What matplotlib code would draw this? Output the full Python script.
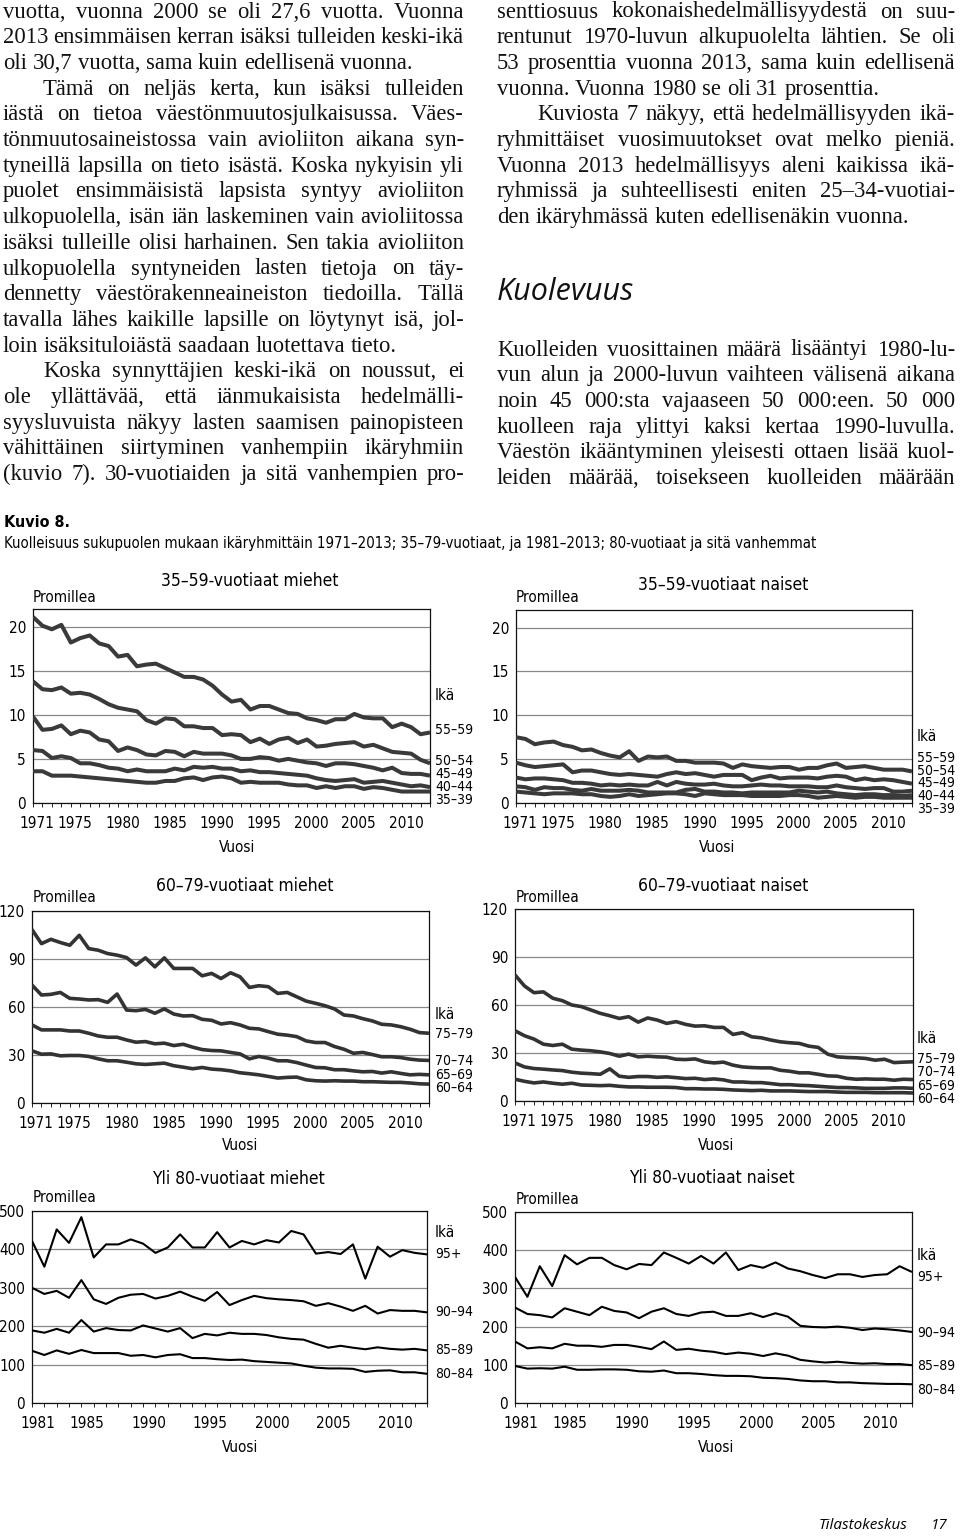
import matplotlib
matplotlib.use('Agg')
import matplotlib.pyplot as plt
from matplotlib import font_manager as fm
from matplotlib.font_manager import FontProperties
from matplotlib.transforms import blended_transform_factory

# ---------------- data ----------------
years71 = list(range(1971, 2014))
years81 = list(range(1981, 2014))
xt71 = [1971, 1975, 1980, 1985, 1990, 1995, 2000, 2005, 2010]
xt81 = [1981, 1985, 1990, 1995, 2000, 2005, 2010]

# 35-59 men
m35_55_59 = [21.1, 20.1, 19.7, 20.2, 18.2, 18.7, 19.0, 18.1, 17.8, 16.6,
             16.8, 15.5, 15.7, 15.8, 15.3, 14.8, 14.3, 14.3, 14.0, 13.3,
             12.3, 11.5, 11.7, 10.6, 11.0, 11.0, 10.6, 10.2, 10.1, 9.6,
             9.4, 9.1, 9.5, 9.5, 10.1, 9.7, 9.6, 9.6, 8.6, 9.0,
             8.6, 7.8, 8.0]
m35_50_54 = [13.8, 12.9, 12.8, 13.1, 12.4, 12.5, 12.3, 11.8, 11.2, 10.8,
             10.6, 10.4, 9.4, 9.0, 9.6, 9.5, 8.7, 8.7, 8.5, 8.5,
             7.7, 7.8, 7.7, 6.9, 7.3, 6.7, 7.2, 7.4, 6.8, 7.2,
             6.4, 6.5, 6.7, 6.8, 6.9, 6.4, 6.6, 6.2, 5.8, 5.7,
             5.6, 4.9, 4.5]
m35_45_49 = [9.8, 8.3, 8.4, 8.8, 7.8, 8.2, 8.0, 7.2, 7.0, 5.9,
             6.3, 6.0, 5.5, 5.4, 5.9, 5.8, 5.3, 5.8, 5.6, 5.6,
             5.6, 5.4, 5.0, 5.0, 5.2, 5.1, 4.8, 5.0, 4.8, 4.6,
             4.5, 4.2, 4.5, 4.5, 4.4, 4.2, 4.0, 3.7, 4.0, 3.4,
             3.3, 3.3, 3.1]
m35_40_44 = [6.0, 5.9, 5.1, 5.3, 5.1, 4.5, 4.5, 4.3, 4.0, 3.9,
             3.6, 3.8, 3.6, 3.6, 3.6, 3.9, 3.7, 4.1, 4.0, 4.1,
             3.9, 3.9, 3.6, 3.7, 3.5, 3.5, 3.4, 3.3, 3.2, 3.1,
             2.8, 2.6, 2.5, 2.6, 2.7, 2.3, 2.4, 2.5, 2.3, 2.1,
             1.9, 2.0, 1.8]
m35_35_39 = [3.6, 3.6, 3.1, 3.1, 3.1, 3.0, 2.9, 2.8, 2.7, 2.6,
             2.5, 2.4, 2.3, 2.3, 2.5, 2.5, 2.8, 2.9, 2.6, 2.9,
             3.0, 2.8, 2.3, 2.4, 2.3, 2.3, 2.3, 2.1, 2.0, 2.0,
             1.7, 1.9, 1.7, 1.9, 1.9, 1.6, 1.8, 1.7, 1.5, 1.3,
             1.3, 1.3, 1.3]

# 35-59 women
w35_55_59 = [7.5, 7.3, 6.7, 6.9, 7.0, 6.6, 6.4, 6.0, 6.1, 5.7,
             5.4, 5.2, 5.9, 4.8, 5.3, 5.2, 5.3, 4.8, 4.8, 4.6,
             4.6, 4.6, 4.5, 4.0, 4.4, 4.2, 4.1, 4.0, 4.1, 4.1,
             3.8, 4.0, 4.0, 4.3, 4.5, 4.0, 4.1, 4.2, 4.0, 3.8,
             3.8, 3.8, 3.6]
w35_50_54 = [4.6, 4.3, 4.1, 4.2, 4.3, 4.4, 3.5, 3.7, 3.7, 3.5,
             3.3, 3.2, 3.3, 3.2, 3.1, 3.0, 3.3, 3.5, 3.3, 3.4,
             3.2, 3.0, 3.2, 3.2, 3.2, 2.6, 2.9, 3.1, 2.8, 2.9,
             2.9, 2.9, 2.8, 3.0, 3.1, 3.0, 2.6, 2.8, 2.6, 2.7,
             2.6, 2.4, 2.2]
w35_45_49 = [2.9, 2.7, 2.8, 2.8, 2.7, 2.6, 2.3, 2.3, 2.2, 2.0,
             2.1, 2.0, 2.1, 2.0, 2.0, 2.4, 2.0, 2.4, 2.2, 2.1,
             2.1, 2.2, 2.0, 1.9, 1.9, 2.0, 2.1, 2.0, 2.0, 1.9,
             1.9, 1.9, 1.8, 1.8, 2.0, 1.8, 1.7, 1.6, 1.7, 1.7,
             1.3, 1.3, 1.4]
w35_40_44 = [1.9, 1.8, 1.5, 1.8, 1.7, 1.7, 1.5, 1.4, 1.6, 1.4,
             1.4, 1.4, 1.5, 1.4, 1.2, 1.2, 1.2, 1.2, 1.5, 1.6,
             1.3, 1.3, 1.2, 1.2, 1.1, 1.2, 1.2, 1.2, 1.2, 1.2,
             1.4, 1.3, 1.2, 1.3, 1.1, 1.0, 0.9, 1.0, 1.0, 0.9,
             0.9, 0.8, 0.9]
w35_35_39 = [1.3, 1.2, 1.1, 1.0, 1.1, 1.1, 1.1, 1.0, 1.0, 0.8,
             0.7, 0.8, 1.0, 0.8, 0.9, 1.0, 1.1, 1.1, 1.0, 0.8,
             1.1, 1.0, 0.9, 0.9, 0.9, 0.8, 0.8, 0.8, 0.8, 0.9,
             0.9, 0.8, 0.6, 0.7, 0.8, 0.7, 0.6, 0.7, 0.7, 0.6,
             0.6, 0.6, 0.6]

# 60-79 men
m60_75_79 = [108.4, 99.6, 102.3, 100.3, 98.6, 104.8, 96.5, 95.5, 93.4, 92.4,
             90.9, 86.2, 90.7, 85.1, 90.7, 84.1, 84.1, 84.1, 79.5, 81.0,
             77.8, 81.4, 78.9, 72.2, 73.3, 72.7, 68.5, 69.1, 66.4, 63.7,
             62.3, 60.8, 58.8, 55.0, 54.4, 52.7, 51.3, 49.2, 48.8, 47.7,
             46.1, 44.0, 43.6]
m60_70_74 = [73.7, 67.5, 67.9, 69.1, 65.4, 65.0, 64.4, 64.6, 62.9, 68.1,
             58.1, 57.7, 58.5, 56.1, 58.8, 55.6, 54.4, 54.6, 52.3, 51.7,
             49.4, 50.2, 48.8, 46.7, 46.3, 44.6, 43.0, 42.4, 41.5, 38.8,
             37.8, 37.8, 35.3, 33.6, 31.1, 31.6, 30.3, 28.9, 28.9, 28.4,
             27.4, 26.8, 26.6]
m60_65_69 = [48.8, 45.7, 45.7, 45.7, 45.0, 45.0, 43.6, 41.9, 41.1, 41.1,
             39.4, 38.0, 38.4, 37.0, 37.4, 35.9, 36.7, 34.9, 33.4, 32.8,
             32.6, 31.6, 30.7, 27.6, 29.1, 28.0, 26.4, 26.4, 25.3, 23.7,
             22.2, 22.0, 20.8, 20.8, 20.1, 19.5, 19.7, 18.7, 19.5, 18.5,
             17.6, 17.9, 17.6]
m60_60_64 = [32.6, 30.5, 30.7, 29.5, 29.7, 29.7, 29.1, 27.6, 26.4, 26.4,
             25.5, 24.5, 24.1, 24.5, 24.9, 23.3, 22.4, 21.4, 22.2, 21.2,
             20.8, 20.1, 18.9, 18.3, 17.6, 16.6, 15.6, 16.0, 16.2, 14.5,
             13.9, 13.7, 13.9, 13.7, 13.7, 13.3, 13.3, 13.1, 12.9, 12.9,
             12.5, 12.0, 11.8]

# 60-79 women
w60_75_79 = [78.8, 71.9, 67.7, 68.2, 64.2, 62.7, 60.0, 59.0, 56.9, 54.8,
             53.3, 51.6, 52.7, 49.3, 51.9, 50.6, 48.5, 49.6, 47.9, 46.8,
             47.0, 46.0, 46.0, 41.6, 42.7, 40.1, 39.5, 38.1, 37.0, 36.4,
             36.0, 34.3, 33.5, 29.3, 27.6, 27.2, 27.0, 26.6, 25.5, 26.1,
             24.0, 24.3, 24.5]
w60_70_74 = [43.9, 40.8, 38.7, 35.5, 34.7, 35.5, 32.4, 31.8, 31.4, 30.7,
             29.7, 28.0, 29.3, 27.6, 28.0, 27.6, 27.4, 26.1, 25.9, 26.3,
             24.5, 23.8, 24.3, 22.4, 21.3, 20.9, 20.7, 20.7, 19.2, 18.6,
             17.6, 17.6, 16.7, 15.7, 15.5, 14.2, 13.6, 13.8, 13.6, 13.6,
             13.0, 13.6, 13.4]
w60_65_69 = [23.8, 21.3, 20.3, 19.9, 19.4, 19.0, 18.0, 17.4, 17.1, 16.7,
             20.1, 15.5, 14.8, 15.3, 15.3, 14.8, 15.1, 14.6, 14.0, 14.2,
             13.4, 13.8, 13.2, 11.9, 11.9, 11.5, 11.5, 10.9, 10.2, 10.2,
             9.8, 9.6, 9.2, 8.8, 8.4, 8.4, 8.2, 7.9, 7.9, 7.9,
             8.2, 8.2, 7.9]
w60_60_64 = [13.6, 12.3, 11.3, 11.9, 11.1, 10.5, 11.1, 10.0, 9.8, 9.6,
             9.8, 9.2, 8.8, 8.8, 8.6, 8.6, 8.6, 8.4, 7.7, 7.7,
             7.5, 7.5, 7.3, 6.9, 6.7, 6.5, 6.7, 6.3, 6.3, 6.3,
             6.1, 5.9, 5.9, 5.9, 5.6, 5.4, 5.4, 5.4, 5.2, 5.2,
             5.2, 5.2, 5.0]

# 80+ men
m80_95 = [422, 355, 452, 417, 484, 379, 413, 413, 426, 415,
          391, 405, 439, 405, 405, 445, 405, 422, 413, 424,
          418, 448, 439, 389, 393, 388, 413, 324, 407, 381,
          398, 391, 387]
m80_90_94 = [300, 284, 292, 274, 320, 270, 258, 274, 282, 284,
             272, 279, 290, 277, 266, 289, 255, 268, 279, 273,
             270, 268, 265, 253, 260, 251, 240, 253, 233, 242,
             240, 240, 236]
m80_85_89 = [189, 183, 193, 183, 216, 186, 195, 190, 189, 202,
             194, 186, 195, 169, 180, 176, 183, 180, 180, 177,
             171, 167, 165, 154, 144, 149, 144, 140, 145, 141,
             139, 141, 137]
m80_80_84 = [136, 125, 137, 128, 138, 130, 130, 130, 123, 125,
             119, 125, 127, 117, 117, 114, 112, 113, 109, 107,
             105, 103, 97, 92, 90, 90, 89, 81, 84, 85,
             80, 80, 76]

# 80+ women
w80_95 = [330, 278, 358, 306, 387, 363, 380, 380, 361, 350,
          364, 361, 394, 380, 365, 385, 365, 394, 348, 361,
          354, 368, 352, 345, 335, 327, 337, 337, 330, 335,
          337, 358, 343]
w80_90_94 = [250, 233, 230, 224, 248, 239, 230, 252, 241, 237,
             222, 239, 248, 233, 228, 237, 239, 228, 228, 235,
             225, 235, 226, 202, 199, 198, 200, 197, 191, 195,
             193, 190, 186]
w80_85_89 = [161, 143, 146, 143, 155, 150, 150, 147, 152, 152,
             147, 141, 161, 139, 142, 137, 134, 128, 132, 129,
             123, 130, 124, 113, 109, 106, 108, 105, 103, 104,
             102, 102, 99]
w80_80_84 = [97, 90, 91, 90, 95, 87, 87, 88, 88, 87,
             83, 82, 85, 78, 78, 76, 73, 71, 71, 70,
             66, 65, 63, 59, 57, 57, 54, 54, 52, 51,
             50, 50, 49]

ages35 = ['55–59', '50–54', '45–49', '40–44', '35–39']
ages60 = ['75–79', '70–74', '65–69', '60–64']
ages80 = ['95+', '90–94', '85–89', '80–84']

# body text
left_pars = [
    (["vuotta, vuonna 2000 se oli 27,6 vuotta. Vuonna",
      "2013 ensimmäisen kerran isäksi tulleiden keski-ikä",
      "oli 30,7 vuotta, sama kuin edellisenä vuonna."], False, False),
    (["Tämä on neljäs kerta, kun isäksi tulleiden",
      "iästä on tietoa väestönmuutosjulkaisussa. Väes-",
      "tönmuutosaineistossa vain avioliiton aikana syn-",
      "tyneillä lapsilla on tieto isästä. Koska nykyisin yli",
      "puolet ensimmäisistä lapsista syntyy avioliiton",
      "ulkopuolella, isän iän laskeminen vain avioliitossa",
      "isäksi tulleille olisi harhainen. Sen takia avioliiton",
      "ulkopuolella syntyneiden lasten tietoja on täy-",
      "dennetty väestörakenneaineiston tiedoilla. Tällä",
      "tavalla lähes kaikille lapsille on löytynyt isä, jol-",
      "loin isäksituloiästä saadaan luotettava tieto."], True, False),
    (["Koska synnyttäjien keski-ikä on noussut, ei",
      "ole yllättävää, että iänmukaisista hedelmälli-",
      "syysluvuista näkyy lasten saamisen painopisteen",
      "vähittäinen siirtyminen vanhempiin ikäryhmiin",
      "(kuvio 7). 30-vuotiaiden ja sitä vanhempien pro-"], True, True),
]
right_pars = [
    (["senttiosuus kokonaishedelmällisyydestä on suu-",
      "rentunut 1970-luvun alkupuolelta lähtien. Se oli",
      "53 prosenttia vuonna 2013, sama kuin edellisenä",
      "vuonna. Vuonna 1980 se oli 31 prosenttia."], False, False),
    (["Kuviosta 7 näkyy, että hedelmällisyyden ikä-",
      "ryhmittäiset vuosimuutokset ovat melko pieniä.",
      "Vuonna 2013 hedelmällisyys aleni kaikissa ikä-",
      "ryhmissä ja suhteellisesti eniten 25–34-vuotiai-",
      "den ikäryhmässä kuten edellisenäkin vuonna."], True, False),
]
right_pars2 = [
    (["Kuolleiden vuosittainen määrä lisääntyi 1980-lu-",
      "vun alun ja 2000-luvun vaihteen välisenä aikana",
      "noin 45 000:sta vajaaseen 50 000:een. 50 000",
      "kuolleen raja ylittyi kaksi kertaa 1990-luvulla.",
      "Väestön ikääntyminen yleisesti ottaen lisää kuol-",
      "leiden määrää, toisekseen kuolleiden määrään"], False, True),
]
heading = "Kuolevuus"
fig_no = "Kuvio 8."
caption = ("Kuolleisuus sukupuolen mukaan ikäryhmittäin 1971–2013; 35–79-vuotiaat, "
           "ja 1981–2013; 80-vuotiaat ja sitä vanhemmat")
footer = "Tilastokeskus"
page_no = "17"

# ---------------- fonts ----------------
fl = fm.fontManager.ttflist
names = {f.name for f in fl}
if 'Liberation Sans Narrow' in names:
    NARROW = dict(family='Liberation Sans Narrow')
elif any(f.name == 'DejaVu Sans' and 'Condensed' in f.fname for f in fl):
    NARROW = dict(family='DejaVu Sans', stretch='condensed')
else:
    NARROW = dict(family='Roboto')

ital_fam = 'DejaVu Sans'
for cand in ['Open Sans', 'Lato', 'Noto Sans', 'Roboto', 'Liberation Sans']:
    if any(f.name == cand and f.style == 'italic' for f in fl):
        ital_fam = cand
        break

SERIF = 'Liberation Serif' if 'Liberation Serif' in names else 'DejaVu Serif'


def nprop(size, weight='normal'):
    return FontProperties(size=size, weight=weight, **NARROW)


W, H = 960, 1536
fig = plt.figure(figsize=(9.6, 15.36), dpi=100)
renderer = fig.canvas.get_renderer()


def fx(x):
    return x / W


def fy(y):
    return 1 - y / H


def tw(s, prop):
    return renderer.get_text_width_height_descent(s, prop, ismath=False)[0]


# ---------------- body text ----------------
LEAD = 25.7
INDENT = 40
LCOL = (3, 464)
RCOL = (497, 955)
MINSP = 0.8   # tightest word space allowed, share of a normal space

base = 15.0
bprop = FontProperties(family=SERIF, size=base)
ratio = 10.0
sp0 = tw('a a', bprop) - tw('aa', bprop)
for pars, col in [(left_pars, LCOL), (right_pars, RCOL), (right_pars2, RCOL)]:
    for lines, ind, cont in pars:
        for i, ln in enumerate(lines):
            avail = col[1] - col[0] - (INDENT if (i == 0 and ind) else 0)
            words = ln.split(' ')
            nat = sum(tw(w, bprop) for w in words) + MINSP * sp0 * (len(words) - 1)
            ratio = min(ratio, avail / nat)
bprop = FontProperties(family=SERIF, size=base * ratio * 0.995)


def set_pars(pars, col, y0):
    sp = tw('a a', bprop) - tw('aa', bprop)
    y = y0
    for lines, ind, cont in pars:
        for i, ln in enumerate(lines):
            words = ln.split(' ')
            widths = [tw(w, bprop) for w in words]
            xs = col[0] + (INDENT if (i == 0 and ind) else 0)
            last = i == len(lines) - 1
            if (not last or cont) and len(words) > 1:
                gap = (col[1] - xs - sum(widths)) / (len(words) - 1)
            else:
                gap = sp
            x = xs
            for w, wd in zip(words, widths):
                fig.text(fx(x), fy(y), w, fontproperties=bprop,
                         ha='left', va='baseline', color='#111111')
                x += wd + gap
            y += LEAD


set_pars(left_pars, LCOL, 17.5)
set_pars(right_pars, RCOL, 17.5)
set_pars(right_pars2, RCOL, 355.5)

fig.text(fx(497), fy(300), heading, family=ital_fam, style='italic',
         size=22, ha='left', va='baseline', color='#111111')

fig.text(fx(4), fy(527), fig_no, fontproperties=nprop(11.5, 'bold'),
         ha='left', va='baseline')
cprop = nprop(11.5)
cw = tw(caption, cprop)
cprop = nprop(11.5 * 810 / cw)
fig.text(fx(4), fy(548), caption, fontproperties=cprop, ha='left', va='baseline')

fig.text(fx(907), fy(1529), footer, family=ital_fam, style='italic', size=11,
         ha='right', va='baseline')
fig.text(fx(948), fy(1529), page_no, family=ital_fam, style='italic', size=11,
         ha='right', va='baseline')

# ---------------- charts ----------------
charts = [
    dict(title='35–59-vuotiaat miehet', years=years71, xt=xt71,
         series=[m35_55_59, m35_50_54, m35_45_49, m35_40_44, m35_35_39],
         ages=ages35, age_y=[8.4, 4.9, 3.45, 2.0, 0.55], ika_y=12.2,
         ymax=22, yticks=[0, 5, 10, 15, 20],
         box=(33, 609, 430, 803), title_xy=(250, 581), prom_xy=(33, 597),
         vuosi_xy=(237, 847), lab_x=435, color='#3a3a3a', lw=2.9),
    dict(title='35–59-vuotiaat naiset', years=years71, xt=xt71,
         series=[w35_55_59, w35_50_54, w35_45_49, w35_40_44, w35_35_39],
         ages=ages35, age_y=[5.25, 3.8, 2.4, 0.95, -0.5], ika_y=7.6,
         ymax=22, yticks=[0, 5, 10, 15, 20],
         box=(516, 610, 912, 803), title_xy=(723, 585), prom_xy=(516, 597),
         vuosi_xy=(717, 847), lab_x=917, color='#3a3a3a', lw=2.9),
    dict(title='60–79-vuotiaat miehet', years=years71, xt=xt71,
         series=[m60_75_79, m60_70_74, m60_65_69, m60_60_64],
         ages=ages60, age_y=[44, 27, 18.7, 10.4], ika_y=55.6,
         ymax=120, yticks=[0, 30, 60, 90, 120],
         box=(32, 911, 429, 1103), title_xy=(245, 886), prom_xy=(33, 898),
         vuosi_xy=(240, 1146), lab_x=435, color='#333333', lw=2.6),
    dict(title='60–79-vuotiaat naiset', years=years71, xt=xt71,
         series=[w60_75_79, w60_70_74, w60_65_69, w60_60_64],
         ages=ages60, age_y=[27.2, 19.2, 10.5, 2.1], ika_y=39,
         ymax=120, yticks=[0, 30, 60, 90, 120],
         box=(515, 909, 913, 1101), title_xy=(723, 886), prom_xy=(516, 897),
         vuosi_xy=(716, 1145), lab_x=917, color='#333333', lw=2.6),
    dict(title='Yli 80-vuotiaat miehet', years=years81, xt=xt81,
         series=[m80_95, m80_90_94, m80_85_89, m80_80_84],
         ages=ages80, age_y=[391, 240, 143, 80], ika_y=443,
         ymax=500, yticks=[0, 100, 200, 300, 400, 500],
         box=(32, 1211, 427, 1403), title_xy=(238, 1179), prom_xy=(33, 1198),
         vuosi_xy=(240, 1447), lab_x=435, color='#000000', lw=1.5),
    dict(title='Yli 80-vuotiaat naiset', years=years81, xt=xt81,
         series=[w80_95, w80_90_94, w80_85_89, w80_80_84],
         ages=ages80, age_y=[335, 187, 100, 39], ika_y=387,
         ymax=500, yticks=[0, 100, 200, 300, 400, 500],
         box=(515, 1212, 912, 1403), title_xy=(712, 1178), prom_xy=(516, 1199),
         vuosi_xy=(716, 1448), lab_x=917, color='#000000', lw=1.5),
]

tprop = nprop(11)
lprop = nprop(10)
for c in charts:
    L, T, R, B = c['box']
    ax = fig.add_axes([fx(L), fy(B), (R - L) / W, (B - T) / H])
    for s in c['series']:
        ax.plot(c['years'], s, color=c['color'], lw=c['lw'],
                solid_joinstyle='round', solid_capstyle='butt', zorder=3)
    ax.set_xlim(c['years'][0], c['years'][-1])
    ax.set_ylim(0, c['ymax'])
    ax.set_yticks(c['yticks'])
    ax.set_yticklabels([str(v) for v in c['yticks']], fontproperties=tprop)
    ax.set_xticks([v + 0.45 for v in c['xt']])
    ax.set_xticklabels([str(v) for v in c['xt']], fontproperties=tprop)
    ax.set_xticks(c['years'], minor=True)
    ax.tick_params(axis='x', which='major', length=0, pad=9)
    ax.tick_params(axis='x', which='minor', length=3, width=0.7,
                   direction='out', color='#222222')
    ax.tick_params(axis='y', length=0, pad=5)
    ax.grid(axis='y', color='#888888', lw=0.9)
    ax.set_axisbelow(True)
    for sp in ax.spines.values():
        sp.set_linewidth(0.9)
        sp.set_color('#111111')
    tr = blended_transform_factory(fig.transFigure, ax.transData)
    ax.text(fx(c['lab_x']), c['ika_y'], 'Ikä', transform=tr,
            fontproperties=tprop, ha='left', va='center', clip_on=False)
    for lab, yv in zip(c['ages'], c['age_y']):
        ax.text(fx(c['lab_x']), yv, lab, transform=tr,
                fontproperties=lprop, ha='left', va='center_baseline', clip_on=False)
    fig.text(fx(c['title_xy'][0]), fy(c['title_xy'][1]), c['title'],
             fontproperties=nprop(12.5), ha='center', va='center')
    fig.text(fx(c['prom_xy'][0]), fy(c['prom_xy'][1]), 'Promillea',
             fontproperties=tprop, ha='left', va='center')
    fig.text(fx(c['vuosi_xy'][0]), fy(c['vuosi_xy'][1]), 'Vuosi',
             fontproperties=tprop, ha='center', va='center')

fig.savefig('out.png', dpi=100)
